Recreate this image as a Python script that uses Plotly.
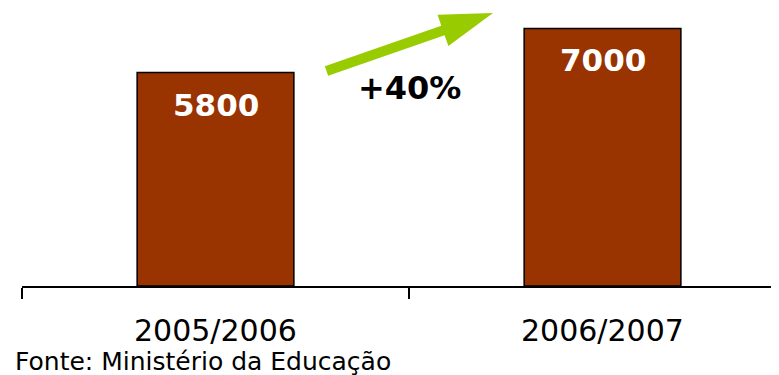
import math
import plotly.graph_objects as go

categories = ["2005/2006", "2006/2007"]
values = [5800, 7000]
growth_label = "+40%"
source_note = "Fonte: Ministério da Educação"

FONT = "DejaVu Sans, Verdana, sans-serif"
xpos = list(range(len(categories)))

# layout geometry (the page body adds an 8px offset)
W, H = 771, 367
ML, MT, MB = 14, 0, 89
XR = [-0.5, 1.456]
YR = [0, 7554]
plot_w = W - ML
plot_h = H - MT - MB


def px_to_data(px, py):
    """figure pixel -> data coordinates"""
    xd = XR[0] + (px - ML) / plot_w * (XR[1] - XR[0])
    yd = YR[0] + (MT + plot_h - py) / plot_h * (YR[1] - YR[0])
    return xd, yd


fig = go.Figure()
fig.add_trace(go.Bar(
    x=xpos, y=values, width=0.405,
    marker=dict(color="#993300", line=dict(color="black", width=1.5)),
    hoverinfo="skip",
))

annotations = []
for x, v in zip(xpos, values):
    annotations.append(dict(
        x=x, y=v, xref="x", yref="y", text=f"<b>{v}</b>", showarrow=False,
        yanchor="middle", yshift=-32,
        font=dict(family=FONT, size=31, color="white"),
    ))
for x, c in zip(xpos, categories):
    annotations.append(dict(
        x=x, y=0, xref="x", yref="y", text=c, showarrow=False,
        yanchor="middle", yshift=-44, borderpad=0,
        font=dict(family=FONT, size=30, color="black"),
    ))
annotations.append(dict(
    x=0.5, y=values[0], xref="x", yref="y", text=f"<b>{growth_label}</b>",
    showarrow=False, yanchor="middle", yshift=-15, xshift=0,
    font=dict(family=FONT, size=32, color="black"),
))
annotations.append(dict(
    x=0, y=0, xref="paper", yref="paper", text=source_note, showarrow=False,
    xanchor="left", yanchor="middle", xshift=-8, yshift=-75,
    borderpad=0,
    font=dict(family=FONT, size=25, color="black"),
))

# growth arrow (decoration), built in pixel space then mapped to data space
tail = (318.5, 63.0)
tip = (485.0, 5.0)
shaft_w, head_len, head_half = 10.0, 53.0, 16.5
dx, dy = tip[0] - tail[0], tip[1] - tail[1]
L = math.hypot(dx, dy)
ux, uy = dx / L, dy / L
nx, ny = -uy, ux
bx, by = tip[0] - ux * head_len, tip[1] - uy * head_len
pts_px = [
    (tail[0] + nx * shaft_w / 2, tail[1] + ny * shaft_w / 2),
    (bx + nx * shaft_w / 2, by + ny * shaft_w / 2),
    (bx + nx * head_half, by + ny * head_half),
    tip,
    (bx - nx * head_half, by - ny * head_half),
    (bx - nx * shaft_w / 2, by - ny * shaft_w / 2),
    (tail[0] - nx * shaft_w / 2, tail[1] - ny * shaft_w / 2),
]
pts = [px_to_data(*p) for p in pts_px]
path = "M " + " L ".join(f"{x:.5f},{y:.2f}" for x, y in pts) + " Z"

fig.add_shape(type="path", path=path, xref="x", yref="y",
              fillcolor="#99CC00", line=dict(width=0), layer="above")

fig.update_layout(
    width=W, height=H,
    margin=dict(l=ML, r=0, t=MT, b=MB, autoexpand=False),
    paper_bgcolor="white", plot_bgcolor="white",
    showlegend=False,
    xaxis=dict(
        range=XR, showgrid=False, zeroline=False,
        showline=True, linecolor="black", linewidth=1.5,
        tickmode="array", tickvals=[-0.5, 0.5, 1.5], ticktext=["", "", ""],
        ticks="outside", ticklen=11, tickwidth=1.5, tickcolor="black",
    ),
    yaxis=dict(range=YR, visible=False),
    annotations=annotations,
)

fig.write_html("out.html")
